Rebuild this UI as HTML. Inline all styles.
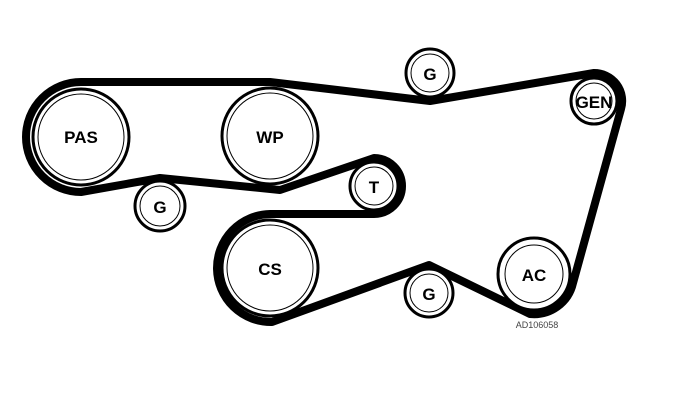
<!DOCTYPE html>
<html><head><style>body{margin:0;background:#fff}svg{display:block}</style></head><body>
<svg width="699" height="413" viewBox="0 0 699 413" xmlns="http://www.w3.org/2000/svg" font-family="Liberation Sans, sans-serif">
<rect width="699" height="413" fill="#fff"/>
<path d="M81,82 L270,82 L430,101 L594,73 A28,28 0 0 1 621,109 L573,283 A40,40 0 0 1 530,314 L429,265 L272,322 A54,54 0 0 1 270,214 L374,214 A28,28 0 0 0 374,158 L280,190 L160,178 L81,192 A55,55 0 0 1 81,82 Z" fill="none" stroke="#000" stroke-width="8" stroke-linejoin="round"/>
<g fill="#fff" stroke="#000">
<circle cx="81" cy="137" r="48" stroke-width="3"/><circle cx="81" cy="137" r="43" stroke-width="1"/>
<circle cx="270" cy="136" r="48" stroke-width="3"/><circle cx="270" cy="136" r="43" stroke-width="1"/>
<circle cx="270" cy="268" r="48" stroke-width="3"/><circle cx="270" cy="268" r="43" stroke-width="1"/>
<circle cx="160" cy="206" r="25" stroke-width="3"/><circle cx="160" cy="206" r="20" stroke-width="1"/>
<circle cx="374" cy="186" r="24" stroke-width="3"/><circle cx="374" cy="186" r="19" stroke-width="1"/>
<circle cx="430" cy="73" r="24" stroke-width="3"/><circle cx="430" cy="73" r="19" stroke-width="1"/>
<circle cx="594" cy="101" r="23" stroke-width="3"/><circle cx="594" cy="101" r="18" stroke-width="1"/>
<circle cx="534" cy="274" r="36" stroke-width="3"/><circle cx="534" cy="274" r="29" stroke-width="1"/>
<circle cx="429" cy="293" r="24" stroke-width="3"/><circle cx="429" cy="293" r="19" stroke-width="1"/>
</g>
<g font-weight="bold" font-size="17" text-anchor="middle" fill="#000">
<text x="81" y="143">PAS</text>
<text x="270" y="143">WP</text>
<text x="270" y="275">CS</text>
<text x="160" y="213">G</text>
<text x="374" y="193">T</text>
<text x="430" y="80">G</text>
<text x="594" y="108">GEN</text>
<text x="534" y="281">AC</text>
<text x="429" y="300">G</text>
</g>
<text x="537" y="328" font-size="9" text-anchor="middle" fill="#444">AD106058</text>
</svg>
</body></html>
